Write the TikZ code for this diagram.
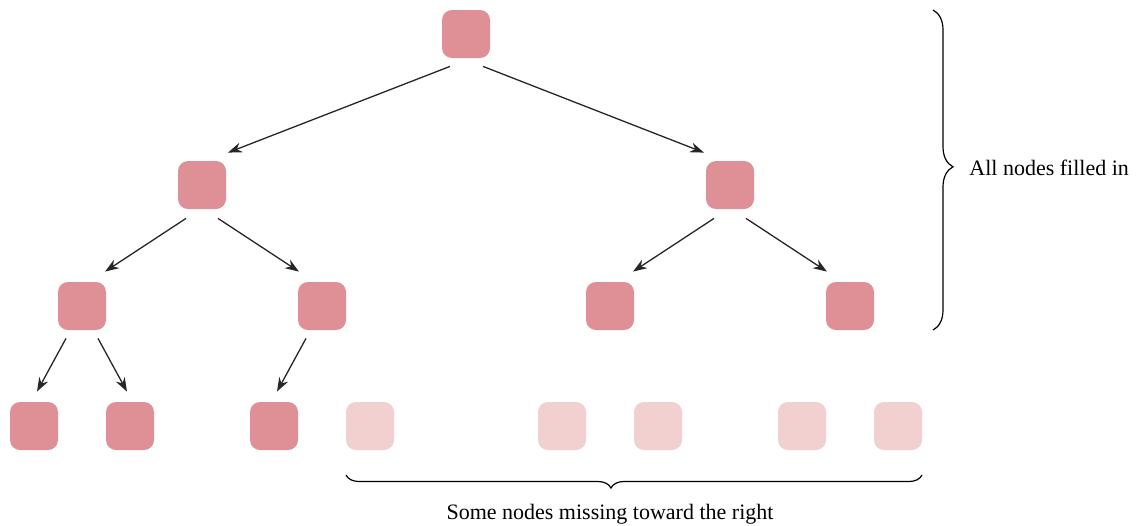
\documentclass[tikz,border=0pt]{standalone}
\usepackage{fontspec}
\setmainfont{Liberation Serif}
\usetikzlibrary{arrows.meta,decorations.pathreplacing}

\definecolor{heapfull}{HTML}{DE9096}
\definecolor{heapempty}{HTML}{F2D0CF}

\begin{document}
\begin{tikzpicture}[
  x=0.5pt, y=-0.5pt,
  full/.style={fill=heapfull,rounded corners=5pt,minimum size=24pt,inner sep=0pt},
  empty/.style={full,fill=heapempty},
  link/.style={line width=0.65pt,draw=black!85,-{Stealth[length=7pt,width=5pt]}},
  label/.style={font=\fontsize{11}{13}\selectfont,inner sep=0pt}
]
  \useasboundingbox (0,0) rectangle (1144,525);
  % levels of the tree
  \node[full] (r) at (466,34) {};
  \node[full] (a) at (202,185) {};
  \node[full] (b) at (730,185) {};
  \node[full] (aa) at (82,306) {};
  \node[full] (ab) at (322,306) {};
  \node[full] (ba) at (610,306) {};
  \node[full] (bb) at (850,306) {};
  \node[full] (aaa) at (34,426) {};
  \node[full] (aab) at (130,426) {};
  \node[full] (aba) at (274,426) {};
  \node[empty] (abb) at (370,426) {};
  \node[empty] (baa) at (562,426) {};
  \node[empty] (bab) at (658,426) {};
  \node[empty] (bba) at (802,426) {};
  \node[empty] (bbb) at (898,426) {};
  % links
  \draw[link] ([shift={(-16,8)}]r.south) -- ([shift={(26,-8)}]a.north);
  \draw[link] ([shift={(17,8)}]r.south) -- ([shift={(-26,-8)}]b.north);
  \draw[link] ([shift={(-16,9)}]a.south) -- ([shift={(23,-10)}]aa.north);
  \draw[link] ([shift={(16,9)}]a.south) -- ([shift={(-23,-10)}]ab.north);
  \draw[link] ([shift={(-16,9)}]b.south) -- ([shift={(23,-10)}]ba.north);
  \draw[link] ([shift={(16,9)}]b.south) -- ([shift={(-23,-10)}]bb.north);
  \draw[link] ([shift={(-16,8)}]aa.south) -- ([shift={(3,-10)}]aaa.north);
  \draw[link] ([shift={(16,8)}]aa.south) -- ([shift={(-3,-10)}]aab.north);
  \draw[link] ([shift={(-16,8)}]ab.south) -- ([shift={(3,-10)}]aba.north);
  % braces
  \coordinate (top) at (933,10);
  \coordinate (bot) at (933,330);
  \draw[line width=0.6pt,decorate,decoration={brace,amplitude=10pt,aspect=0.49}] (top) -- (bot);
  \node[label,anchor=west] (full label) at (969,168) {All nodes filled in};
  \coordinate (right) at (922,475);
  \coordinate (left) at (346,475);
  \draw[line width=0.6pt,decorate,decoration={brace,amplitude=6.5pt,aspect=0.54}] (right) -- (left);
  \node[label,anchor=base] (gap label) at (610,519) {Some nodes missing toward the right};
\end{tikzpicture}
\end{document}
